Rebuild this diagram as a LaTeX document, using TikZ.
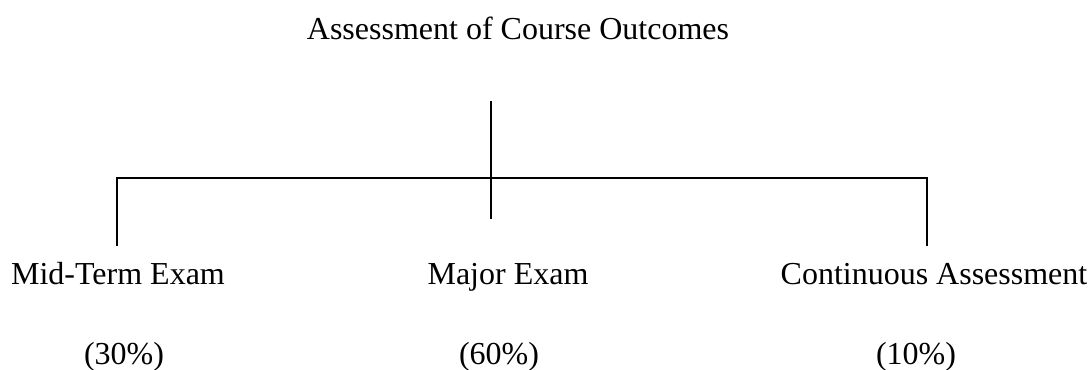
\documentclass[tikz,border=0pt]{standalone}
\usepackage{fontspec}
\setmainfont{Liberation Serif}
\usetikzlibrary{positioning}

\begin{document}
\begin{tikzpicture}[x=0.5pt, y=-0.5pt,
    label/.style={anchor=base, inner sep=0pt, font=\fontsize{16}{19}\selectfont},
    tree/.style={line width=0.6pt}]
    \useasboundingbox (0,0) rectangle (1089,370);

    % Title
    \node[label] (title) at (518,39) {Assessment of Course Outcomes};

    % Tree coordinates
    \coordinate (stemtop) at (491,101);
    \coordinate (stembot) at (491,219);
    \coordinate (barleft) at (117,178);
    \coordinate (barright) at (927,178);
    \coordinate (dropleft) at (117,246);
    \coordinate (dropright) at (927,246);

    % Components
    \node[label] (midterm) at (118,284) {Mid-Term Exam};
    \node[label] (major) at (508,284) {Major Exam};
    \node[label] (cont) at (934,284) {Continuous Assessment};

    % Weights
    \node[label] (midw) at (124,364) {(30\%)};
    \node[label] (majw) at (499,364) {(60\%)};
    \node[label] (contw) at (916,364) {(10\%)};

    % Lines
    \draw[tree] (stemtop) -- (stembot);
    \draw[tree] (dropleft) -- (barleft) -- (barright) -- (dropright);
\end{tikzpicture}
\end{document}
